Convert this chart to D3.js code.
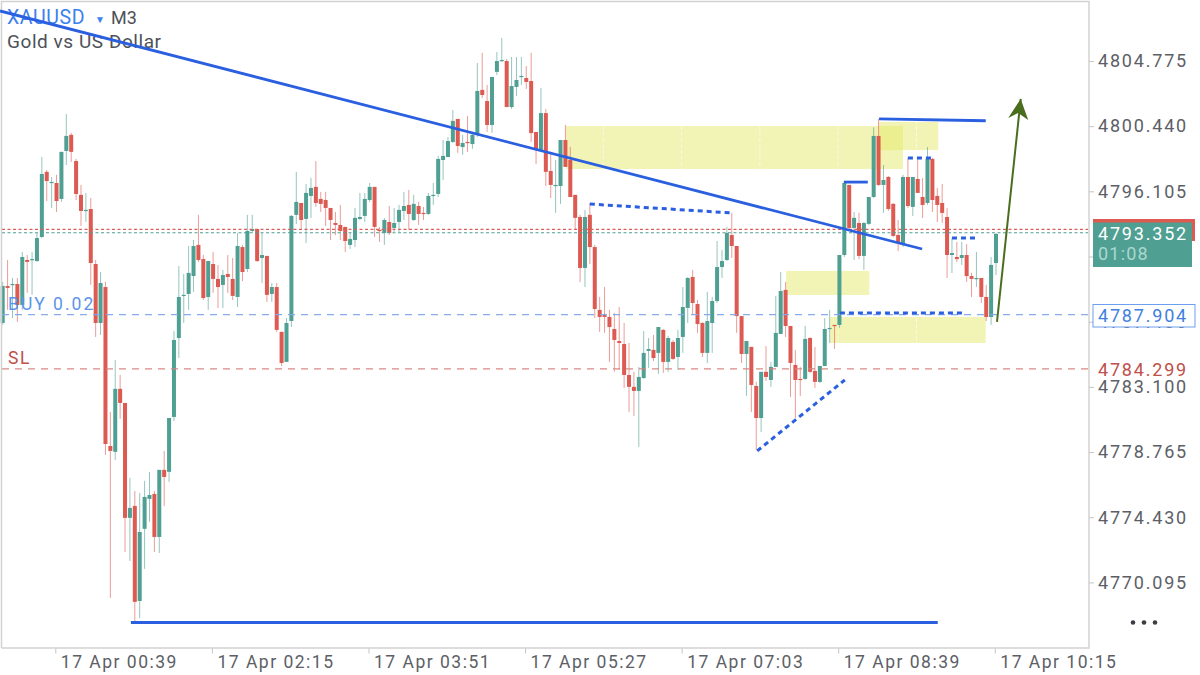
<!DOCTYPE html>
<html>
<head>
<meta charset="utf-8">
<script src="https://d3js.org/d3.v7.min.js"></script>
<style>
  html, body { margin: 0; padding: 0; background: #fff; }
  svg { display: block; }
  text { font-family: Roboto, "Liberation Sans", sans-serif; }
</style>
</head>
<body>
<svg id="chart" width="1200" height="675"></svg>
<script>
var opens = [
4787.35,4789.81,4789.88,4789.94,4788.55,4791.54,4791.54,4791.47,4793.07,4797.40,
4796.66,4796.66,4795.60,4798.79,4799.86,4798.12,4795.87,4794.80,4794.93,4791.27,
4787.35,4789.74,4779.17,4778.78,4782.97,4782.03,4774.39,4775.18,4768.86,4773.66,
4775.65,4775.98,4773.12,4777.58,4777.45,4781.10,4786.35,4789.15,4789.28,4790.47,
4792.54,4791.60,4789.08,4791.27,4790.28,4789.88,4790.61,4790.28,4789.08,4792.40,
4790.94,4793.47,4793.60,4791.67,4791.81,4789.28,4789.74,4786.76,4784.76,4787.48,
4794.54,4795.33,4794.27,4795.80,4796.40,4795.60,4795.53,4795.00,4794.00,4793.87,
4793.74,4792.54,4792.87,4794.27,4794.47,4795.53,4796.40,4793.54,4793.34,4794.07,
4793.67,4794.07,4794.80,4795.20,4794.20,4795.13,4794.67,4794.60,4795.80,4795.93,
4798.19,4798.39,4799.39,4800.92,4799.05,4799.39,4799.25,4799.86,4802.85,4802.11,
4800.52,4804.05,4804.77,4804.77,4801.71,4803.05,4803.71,4803.64,4803.44,4800.05,
4798.86,4801.31,4797.46,4796.46,4796.46,4799.52,4798.19,4795.87,4794.40,4791.01,
4794.54,4792.40,4788.22,4787.88,4787.75,4786.95,4786.15,4785.95,4783.89,4783.10,
4782.83,4783.69,4785.49,4785.56,4785.36,4786.89,4784.76,4786.09,4785.09,4786.42,
4788.35,4790.41,4788.61,4787.35,4785.36,4787.35,4788.81,4791.07,4791.54,4793.20,
4792.47,4787.81,4785.29,4785.76,4783.16,4781.03,4784.10,4783.56,4784.43,4786.62,
4789.55,4787.15,4784.56,4783.63,4783.63,4786.35,4784.16,4783.43,4784.49,4786.95,
4787.22,4787.22,4791.87,4796.53,4793.67,4794.00,4791.81,4793.94,4795.73,4799.79,
4796.53,4797.06,4795.27,4793.20,4792.60,4797.06,4795.07,4796.93,4795.73,4795.33,
4798.26,4795.80,4795.33,4794.40,4791.87,4791.74,4791.67,4791.87,4790.47,4790.28,
4790.34,4789.08,4787.75,4791.34];

var highs = [
4790.08,4791.54,4790.34,4790.34,4792.07,4791.87,4792.07,4793.34,4798.39,4797.53,
4797.06,4797.20,4798.73,4801.25,4799.99,4798.26,4796.53,4796.00,4795.66,4791.54,
4790.74,4790.08,4781.43,4784.89,4783.89,4782.03,4777.05,4776.18,4776.05,4776.85,
4777.45,4776.18,4777.58,4778.84,4781.03,4786.82,4791.14,4790.61,4792.47,4792.87,
4794.54,4791.87,4791.47,4792.07,4791.21,4790.88,4791.87,4791.67,4793.34,4792.54,
4794.54,4794.54,4793.60,4793.34,4791.81,4790.01,4790.01,4786.76,4787.68,4794.54,
4797.40,4795.33,4796.60,4797.00,4798.12,4796.07,4796.07,4795.00,4794.73,4795.20,
4793.74,4793.34,4795.00,4796.00,4796.00,4796.66,4796.40,4793.74,4794.33,4795.13,
4795.00,4795.20,4796.07,4796.20,4795.87,4795.40,4795.07,4796.00,4796.66,4798.46,
4799.52,4799.72,4801.52,4800.92,4799.86,4801.12,4800.06,4804.64,4805.31,4803.18,
4803.71,4805.37,4806.30,4804.91,4805.04,4805.04,4805.04,4804.44,4805.31,4800.06,
4802.98,4801.58,4798.73,4798.19,4799.52,4800.52,4799.06,4795.87,4794.54,4794.87,
4795.33,4792.54,4789.08,4789.74,4788.22,4788.02,4788.41,4787.35,4786.02,4784.10,
4784.43,4786.82,4786.35,4786.55,4787.08,4786.95,4786.49,4786.22,4786.89,4789.74,
4790.41,4790.88,4788.88,4787.42,4789.42,4789.08,4792.80,4792.21,4793.74,4794.67,
4792.47,4787.81,4786.15,4785.76,4783.43,4784.10,4785.82,4784.76,4789.15,4790.74,
4790.08,4787.15,4785.56,4784.43,4787.15,4786.42,4785.76,4784.49,4787.68,4788.22,
4787.22,4791.87,4796.73,4796.53,4794.73,4794.67,4794.07,4795.73,4800.36,4800.92,
4797.86,4797.13,4795.33,4794.20,4797.20,4798.33,4797.06,4798.26,4796.99,4799.05,
4798.33,4796.33,4796.60,4795.00,4792.99,4792.74,4792.74,4792.60,4790.68,4792.07,
4790.34,4789.88,4791.74,4793.34];

var lows = [
4787.22,4788.22,4787.68,4787.42,4788.22,4789.35,4789.22,4791.41,4793.00,4795.46,
4795.00,4794.73,4795.40,4797.86,4798.06,4795.53,4793.80,4794.07,4789.88,4786.42,
4786.55,4778.58,4769.06,4778.24,4780.97,4772.12,4771.52,4767.47,4767.73,4771.00,
4774.12,4772.12,4772.05,4775.18,4776.78,4780.83,4785.02,4787.35,4788.22,4789.42,
4791.41,4788.88,4788.22,4789.35,4788.35,4788.35,4789.35,4788.88,4788.41,4790.14,
4790.74,4793.34,4791.41,4790.01,4788.75,4788.75,4786.76,4784.49,4784.76,4787.08,
4793.93,4793.54,4792.67,4794.33,4795.07,4794.73,4793.80,4792.87,4793.20,4792.87,
4792.07,4792.27,4792.40,4794.20,4794.07,4795.40,4793.07,4792.74,4792.54,4793.20,
4793.40,4793.40,4794.20,4793.54,4794.13,4793.87,4794.20,4794.54,4795.20,4795.73,
4796.86,4798.39,4799.32,4798.66,4798.53,4798.73,4798.93,4799.72,4802.31,4800.06,
4799.99,4803.84,4804.71,4801.71,4801.58,4802.45,4803.18,4802.92,4799.39,4797.92,
4798.73,4796.46,4795.66,4794.67,4795.27,4797.73,4795.73,4793.54,4790.08,4789.74,
4791.27,4787.68,4786.76,4786.69,4784.76,4784.10,4784.23,4783.03,4781.43,4781.17,
4779.11,4783.63,4784.36,4784.82,4783.96,4784.03,4784.10,4784.89,4784.23,4785.36,
4787.35,4787.88,4786.69,4785.09,4784.69,4785.36,4788.68,4790.34,4791.47,4791.67,
4786.69,4784.69,4782.50,4781.43,4778.91,4780.10,4783.49,4783.10,4784.43,4786.62,
4786.42,4782.43,4781.03,4782.50,4783.56,4784.03,4783.03,4783.36,4784.49,4786.02,
4785.62,4787.02,4791.74,4793.54,4791.54,4791.60,4790.88,4793.87,4795.66,4796.46,
4794.67,4794.80,4793.07,4792.14,4792.40,4795.00,4794.47,4796.00,4794.33,4795.20,
4794.73,4794.07,4794.00,4790.34,4790.67,4791.41,4791.21,4790.08,4789.08,4789.75,
4788.68,4787.48,4787.22,4790.54];

var closes = [
4789.81,4789.68,4789.94,4788.55,4791.74,4791.41,4791.60,4793.00,4797.26,4796.79,
4796.73,4795.46,4798.73,4799.79,4798.73,4795.93,4794.80,4794.87,4791.34,4787.35,
4790.01,4779.30,4778.84,4782.97,4782.03,4774.39,4775.05,4768.80,4773.45,4775.78,
4775.91,4773.12,4777.58,4777.11,4781.03,4786.22,4789.08,4789.22,4790.68,4792.47,
4791.54,4789.01,4791.47,4790.28,4789.74,4790.54,4790.41,4789.15,4792.47,4790.74,
4793.47,4793.60,4791.47,4791.87,4789.22,4789.74,4786.89,4784.69,4787.35,4794.47,
4795.40,4794.20,4796.00,4796.33,4795.33,4795.27,4795.00,4794.20,4793.87,4793.47,
4792.80,4792.94,4794.34,4794.40,4795.60,4796.40,4793.74,4793.47,4794.20,4793.34,
4794.00,4794.87,4795.13,4794.60,4795.27,4794.60,4794.60,4795.80,4795.87,4798.26,
4798.46,4799.45,4800.79,4799.12,4799.32,4799.32,4799.86,4802.78,4802.51,4800.52,
4803.71,4804.77,4804.84,4801.71,4803.11,4803.51,4803.78,4803.38,4799.98,4798.86,
4801.31,4797.40,4796.53,4796.53,4799.52,4797.73,4795.73,4794.34,4791.01,4794.40,
4792.40,4788.28,4787.75,4787.75,4787.08,4786.22,4786.02,4783.89,4783.10,4782.83,
4783.76,4785.36,4785.62,4785.02,4787.08,4784.76,4786.35,4784.96,4786.35,4788.41,
4790.34,4788.68,4787.28,4785.36,4787.48,4788.81,4791.07,4791.47,4793.34,4792.47,
4787.81,4785.29,4786.15,4783.23,4781.03,4784.10,4783.76,4784.43,4786.69,4789.48,
4787.15,4784.69,4783.56,4783.56,4786.29,4784.10,4783.43,4784.49,4786.95,4787.02,
4787.15,4791.87,4796.66,4793.67,4794.34,4791.81,4794.00,4795.73,4799.79,4796.53,
4796.86,4794.93,4793.14,4792.67,4797.06,4795.13,4797.06,4796.00,4795.20,4798.26,
4795.53,4795.20,4794.67,4791.87,4792.00,4791.60,4791.87,4790.47,4790.28,4790.34,
4789.08,4787.75,4791.21,4793.27];

// axis labels
var priceTicks = [4804.775, 4800.440, 4796.105, 4791.770, 4787.435, 4783.100, 4778.765, 4774.430, 4770.095];
var timeTickBars = [11, 43, 75, 107, 139, 171, 203];
var timeLabels = ["17 Apr 00:39", "17 Apr 02:15", "17 Apr 03:51", "17 Apr 05:27", "17 Apr 07:03", "17 Apr 08:39", "17 Apr 10:15"];
var gridBars = [11, 27, 43, 59, 75, 91, 107, 123, 139, 155, 171, 187, 203];

// order lines
var askPrice = 4793.58, bidPrice = 4793.352, buyPrice = 4787.904, slPrice = 4784.299;

// drawings, [bar, price] pairs
var zones = [[115.1, 4800.45, 184.0, 4797.59], [179.1, 4800.72, 191.2, 4798.85], [160.1, 4790.81, 177.1, 4789.21], [169.1, 4787.75, 200.9, 4786.02]];
var solidLines = [[[-0.55, 4808.10], [187.9, 4792.27]], [[26.2, 4767.43], [191.1, 4767.43]], [[179.1, 4800.92], [200.9, 4800.80]], [[171.9, 4796.72], [176.8, 4796.72]]];
var dottedLines = [[[120.0, 4795.26], [149.0, 4794.67]], [[154.2, 4778.84], [172.1, 4783.56]], [[171.1, 4788.02], [196.1, 4788.02]], [[185.0, 4798.32], [189.9, 4798.32]], [[194.0, 4793.00], [199.1, 4793.00]]];
var arrowLine = [[203.2, 4787.42], [208.05, 4802.25]];

var svg = d3.select("#chart");

var x = d3.scaleLinear().domain([0, 203]).range([2.7, 996]);
var y = d3.scaleLinear().domain([4808.83, 4765.80]).range([0, 647]);

var green = "#4f9f92", red = "#dc5a52";

// zones sit behind everything
svg.append("g").selectAll("rect")
  .data(zones)
  .enter().append("rect")
  .attr("x", function(d) { return x(d[0]); })
  .attr("y", function(d) { return y(d[1]); })
  .attr("width", function(d) { return x(d[2]) - x(d[0]); })
  .attr("height", function(d) { return y(d[3]) - y(d[1]); })
  .attr("fill", "rgb(229,234,108)")
  .attr("fill-opacity", 0.5);

// grid only shows on top of the zones
svg.append("g").selectAll("line")
  .data(gridBars)
  .enter().append("line")
  .attr("x1", function(d) { return x(d) - 1.2; })
  .attr("x2", function(d) { return x(d) - 1.2; })
  .attr("y1", 0)
  .attr("y2", 647)
  .attr("stroke", "#fff")
  .attr("stroke-opacity", 0.55)
  .attr("stroke-dasharray", "4,2");

var candles = svg.append("g").selectAll("g")
  .data(d3.range(opens.length))
  .enter().append("g");

candles.append("line")
  .attr("x1", function(i) { return x(i); })
  .attr("x2", function(i) { return x(i); })
  .attr("y1", function(i) { return y(highs[i]); })
  .attr("y2", function(i) { return y(lows[i]); })
  .attr("stroke", function(i) { return closes[i] >= opens[i] ? green : red; })
  .attr("stroke-opacity", 0.6)
  .attr("stroke-width", 1);

candles.append("rect")
  .attr("x", function(i) { return x(i) - 2; })
  .attr("width", 4)
  .attr("y", function(i) { return y(Math.max(opens[i], closes[i])); })
  .attr("height", function(i) { return Math.max(1.2, Math.abs(y(opens[i]) - y(closes[i]))); })
  .attr("fill", function(i) { return closes[i] >= opens[i] ? green : red; });

// price lines
function priceLine(price, color, dash, opacity) {
  svg.append("line")
    .attr("x1", 2).attr("x2", 1088)
    .attr("y1", y(price)).attr("y2", y(price))
    .attr("stroke", color)
    .attr("stroke-opacity", opacity)
    .attr("stroke-width", 1.2)
    .attr("stroke-dasharray", dash);
}
priceLine(askPrice, "#d9605a", "3,2.5", 1);
priceLine(bidPrice, "#4f9f92", "3,2.5", 1);
priceLine(buyPrice, "#7fa8e8", "7,6", 0.95);
priceLine(slPrice, "#d6837e", "7,6", 0.95);

// frame and axes
svg.append("path")
  .attr("d", "M1.5,648V1.5H1089V648H1.5")
  .attr("fill", "none")
  .attr("stroke", "#d2d2d2")
  .attr("stroke-width", 1.5);

// 4791.770 sits fully behind the live price box, so it keeps only its tick
var yAxis = d3.axisRight(y).tickValues(priceTicks).tickSize(5).tickPadding(4)
  .tickFormat(function(d) { return d === 4791.770 ? "" : d.toFixed(3); });
var gy = svg.append("g").attr("transform", "translate(1089,0)").call(yAxis);
gy.select(".domain").remove();
gy.selectAll("line").attr("stroke", "#c4c4c4");
gy.selectAll("text")
  .attr("fill", "#5c6066")
  .style("font-size", "18px")
  .style("letter-spacing", "1.8px");

var xAxis = d3.axisBottom(x).tickValues(timeTickBars).tickSize(5)
  .tickFormat(function(d, i) { return timeLabels[i]; });
var gx = svg.append("g").attr("transform", "translate(-1.2,648.5)").call(xAxis);
gx.select(".domain").remove();
gx.selectAll("line").attr("stroke", "#c4c4c4");
gx.selectAll("text")
  .attr("text-anchor", "start")
  .attr("x", 5)
  .attr("y", 7)
  .attr("fill", "#5c6066")
  .style("font-size", "17.5px")
  .style("letter-spacing", "1.5px");

// header text
function label(txt, px, py, size, color, spacing) {
  return svg.append("text")
    .attr("x", px).attr("y", py)
    .attr("fill", color)
    .style("font-size", size + "px")
    .style("letter-spacing", (spacing || 0) + "px")
    .text(txt);
}
label("XAUUSD", 7, 24, 19.5, "#3b7ff0", 0.6);
label("▼", 95, 23, 10, "#3b7ff0");
label("M3", 111, 24, 18, "#4d5157");
label("Gold vs US Dollar", 7, 48, 19, "#4d5157", 0.55);
label("BUY 0.02", 8, 310, 17.5, "#5b93ec", 2);
label("SL", 8, 364, 17.5, "#bf4f4a", 1.5);

// drawings on top of candles
var line = d3.line()
  .x(function(d) { return x(d[0]); })
  .y(function(d) { return y(d[1]); });

svg.append("g").selectAll("path")
  .data(solidLines)
  .enter().append("path")
  .attr("d", line)
  .attr("fill", "none")
  .attr("stroke", "#2a5fe0")
  .attr("stroke-width", 2.8);

svg.append("g").selectAll("path")
  .data(dottedLines)
  .enter().append("path")
  .attr("d", line)
  .attr("fill", "none")
  .attr("stroke", "#2a5fe0")
  .attr("stroke-width", 3)
  .attr("stroke-dasharray", "5,4");

// arrow
var arrowColor = "#4a6d1e";
var tipX = x(arrowLine[1][0]), tipY = y(arrowLine[1][1]);
svg.append("path")
  .attr("d", line(arrowLine))
  .attr("fill", "none")
  .attr("stroke", arrowColor)
  .attr("stroke-width", 2);
svg.append("path")
  .attr("d", "M" + tipX + "," + tipY + "L" + (tipX - 12.5) + "," + (tipY + 19) + "L" + (tipX - 2.5) + "," + (tipY + 14) + "L" + (tipX + 7.5) + "," + (tipY + 21) + "Z")
  .attr("fill", arrowColor);

// price boxes on the right
svg.append("rect").attr("x", 1093).attr("y", 219).attr("width", 102).attr("height", 22).attr("fill", red);
svg.append("rect").attr("x", 1093).attr("y", 222.5).attr("width", 99).attr("height", 44.5).attr("fill", "#4f9f92");
label(bidPrice.toFixed(3), 1098, 239.5, 18, "#fff", 1.8);
label("01:08", 1098, 260, 18, "#a9d8cf", 1.2);

svg.append("rect")
  .attr("x", 1093).attr("y", 304.5).attr("width", 102).attr("height", 22.5)
  .attr("fill", "#fff").attr("stroke", "#6d9ff0").attr("stroke-width", 1);
label(buyPrice.toFixed(3), 1098, 322, 18, "#3f7fe0", 1.8);
label(slPrice.toFixed(3), 1098, 375.5, 18, "#bf4f4a", 1.8);

// more menu
svg.append("g").selectAll("circle")
  .data([0, 1, 2])
  .enter().append("circle")
  .attr("cx", function(d) { return 1133 + d * 11; })
  .attr("cy", 622.5)
  .attr("r", 2.3)
  .attr("fill", "#3a3d42");
</script>
</body>
</html>
